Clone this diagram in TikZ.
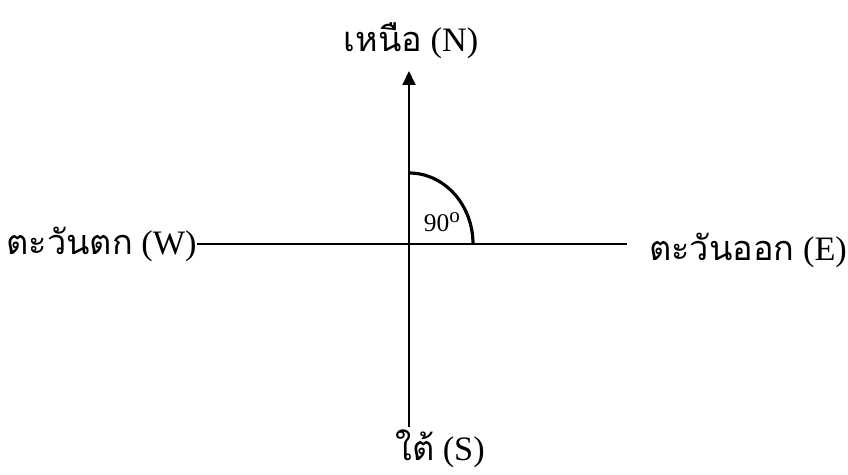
\documentclass[tikz,border=0pt]{standalone}
\usepackage{fontspec}
\setmainfont{Liberation Serif}
\newfontfamily\thaifont[Script=Thai]{Loma}
\usetikzlibrary{arrows.meta,positioning}

\begin{document}
\begin{tikzpicture}[
			axisline/.style={line width=1.1pt},
			dirlabel/.style={inner sep=0pt, anchor=base, font=\fontsize{19.5}{22}\selectfont},
			anglearc/.style={line width=1.8pt},
			]
			\useasboundingbox (-8.18,-4.62) rectangle (8.78,4.88);
			% Directions
			\node[dirlabel] (north) at (0.04,3.84) {{\thaifont เหนือ} (N)};
			\node[dirlabel, anchor=base east] (west) at (-4.24,-0.22) {{\thaifont ตะวันตก} (W)};
			\node[dirlabel, anchor=base west] (east) at (4.8,-0.34) {{\thaifont ตะวันออก} (E)};
			\node[dirlabel] (south) at (0.62,-4.34) {{\thaifont ใต้} (S)};
			% Axis ends
			\coordinate (top) at (0,3.46);
			\coordinate (bottom) at (0,-3.66);
			\coordinate (eend) at (4.36,0);
			
			\draw[axisline, -{Triangle[length=2.8mm, width=2.6mm]}] (bottom) -- (top);
			\draw[axisline] (west.east |- 0,0) -- (eend);
			
			% Right angle
			\draw[anglearc] (0,1.42) arc[start angle=90, end angle=0, x radius=1.28, y radius=1.42];
			\node[font=\fontsize{14.5}{16}\selectfont] (angle) at (0.66,0.44) {90\raisebox{0.75ex}{\fontsize{12}{12}\selectfont o}};
		\end{tikzpicture}
\end{document}
